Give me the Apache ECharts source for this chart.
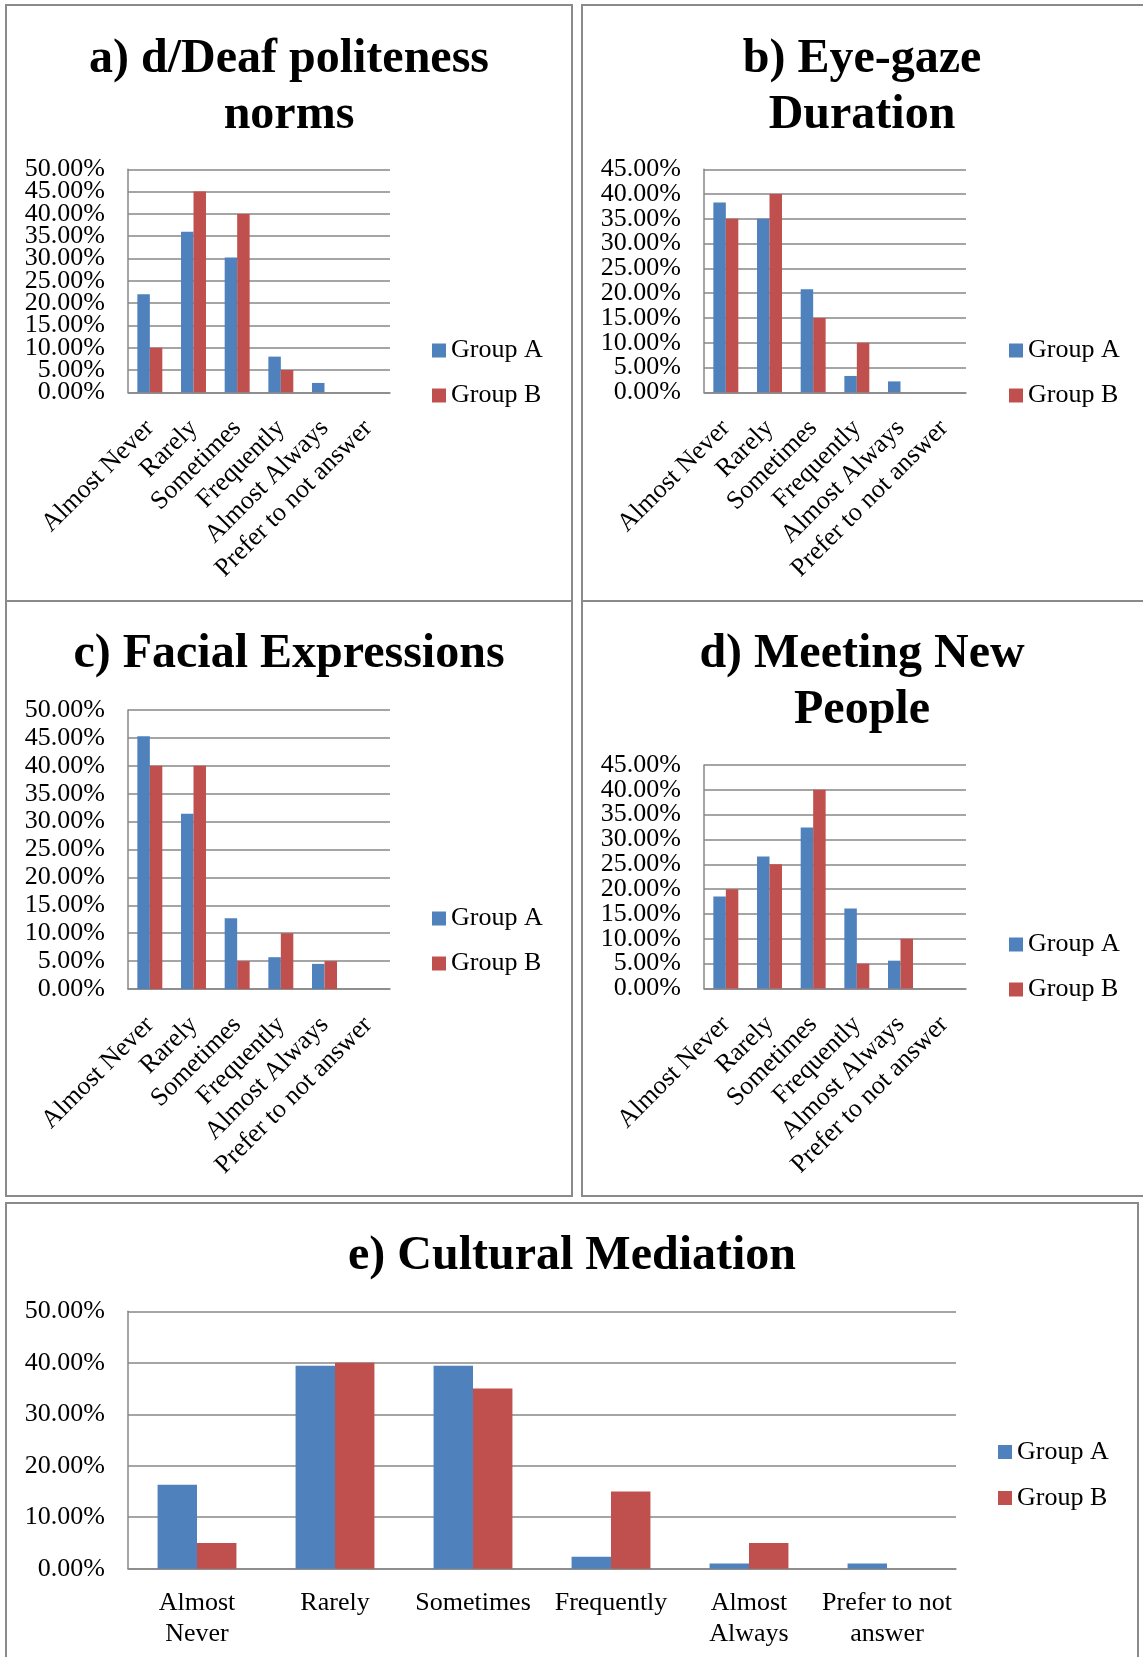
<!DOCTYPE html>
<html>
<head>
<meta charset="utf-8">
<title>Survey responses by group</title>
<script src="https://cdn.jsdelivr.net/npm/echarts@6/dist/echarts.min.js"></script>
<style>
  html, body { margin: 0; padding: 0; background: #fff; }
  #chart { width: 1143px; height: 1657px; }
</style>
</head>
<body>
<div id="chart"></div>
<script>
// Response categories (rotated labels in the small panels)
const categories = ['Almost Never', 'Rarely', 'Sometimes', 'Frequently', 'Almost Always', 'Prefer to not answer'];
// Wrapped tick labels for the wide bottom panel
const wrappedLabels = ['Almost\nNever', 'Rarely', 'Sometimes', 'Frequently', 'Almost\nAlways', 'Prefer to not\nanswer'];
const seriesNames = ['Group A', 'Group B'];

// Percent of respondents per category
const politenessA = [22.0, 36.0, 30.2, 8.0, 2.1, 0];
const politenessB = [10.0, 45.0, 40.0, 5.0, 0, 0];
const eyeGazeA = [38.3, 35.0, 20.8, 3.3, 2.2, 0];
const eyeGazeB = [35.0, 40.0, 15.0, 10.0, 0, 0];
const facialA = [45.3, 31.4, 12.7, 5.7, 4.5, 0];
const facialB = [40.0, 40.0, 5.0, 10.0, 5.0, 0];
const meetingA = [18.5, 26.6, 32.4, 16.1, 5.6, 0];
const meetingB = [20.0, 25.0, 40.0, 5.0, 10.0, 0];
const mediationA = [16.3, 39.4, 39.4, 2.3, 1.0, 1.0];
const mediationB = [5.0, 40.0, 35.0, 15.0, 5.0, 0];

// Axis ranges (percent) and tick labels of the small panels
const yMaxSmall = [50, 45, 50, 45];
const yMaxWide = 50;
const yStepSmall = 5;
const yStepWide = 10;
const tickEven50 = [0, 10, 20, 30, 40, 50];
const tickOdd50 = [5, 15, 25, 35, 45];
const tickEven45 = [0, 10, 20, 30, 40];
const tickOdd45 = [5, 15, 25, 35, 45];

const panelTitles = [
  'a) d/Deaf politeness\nnorms',
  'b) Eye-gaze\nDuration',
  'c) Facial Expressions',
  'd) Meeting New\nPeople',
  'e) Cultural Mediation'
];

const FONT = '"Liberation Serif", "Times New Roman", serif';
const FS = 26;
const BLUE = '#4F81BD';
const RED = '#C0504D';
const GRIDC = '#878787';

// Plot areas, panel frames, titles and legends
const panels = [
  { grid: { left: 128, top: 169.3, width: 262, height: 223 }, frame: [6, 5, 566, 596], titleX: 289, titleY: 31.5, legend: { left: 432, top: 335.5, gap: 15 } },
  { grid: { left: 704, top: 169.3, width: 262, height: 223 }, frame: [582, 5, 562, 596], titleX: 862, titleY: 31.5, legend: { left: 1009, top: 335.5, gap: 15 } },
  { grid: { left: 128, top: 710, width: 262, height: 279 }, frame: [6, 601, 566, 595], titleX: 289, titleY: 626.5, legend: { left: 432, top: 903.5, gap: 15 } },
  { grid: { left: 704, top: 765, width: 262, height: 223.5 }, frame: [582, 601, 562, 595], titleX: 862, titleY: 626.5, legend: { left: 1009, top: 929.5, gap: 15 } },
  { grid: { left: 128, top: 1311.3, width: 828, height: 257.4 }, frame: [6, 1203, 1132, 470], titleX: 572, titleY: 1228.5, legend: { left: 998, top: 1437, gap: 16 } }
];

const dataPairs = [
  [politenessA, politenessB],
  [eyeGazeA, eyeGazeB],
  [facialA, facialB],
  [meetingA, meetingB],
  [mediationA, mediationB]
];

const pct = v => v.toFixed(2) + '%';
const labelStyle = { margin: 23, color: '#000', fontFamily: FONT, fontSize: FS, formatter: pct };

const grids = [], xAxes = [], yAxes = [], series = [], legends = [], graphics = [];

panels.forEach((p, i) => {
  const wide = i === 4;
  const yMax = wide ? yMaxWide : yMaxSmall[i];
  grids.push(Object.assign({ containLabel: false, outerBoundsMode: 'none' }, p.grid));

  xAxes.push({
    type: 'category',
    gridIndex: i,
    data: wide ? wrappedLabels : categories,
    axisLine: { show: true, lineStyle: { color: GRIDC, width: 1.5 } },
    axisTick: { show: false },
    axisLabel: wide ? {
      interval: 0, margin: 19, color: '#000', fontFamily: FONT, fontSize: FS, lineHeight: 31
    } : {
      interval: 0, rotate: 45, margin: 32, color: '#000', fontFamily: FONT, fontSize: FS,
      hideOverlap: false
    }
  });

  // main value axis: axis line, gridlines and (wide panel) labels
  const mainIndex = yAxes.length;
  yAxes.push({
    type: 'value',
    gridIndex: i,
    min: 0,
    max: yMax,
    interval: wide ? yStepWide : yStepSmall,
    axisLine: { show: true, lineStyle: { color: GRIDC, width: 1.5 } },
    axisTick: { show: false },
    splitLine: { show: true, lineStyle: { color: GRIDC, width: 1.5 } },
    axisLabel: Object.assign({ show: wide }, labelStyle)
  });

  // the small panels pack labels every 5%; split them over two label-only
  // axes on the same side so that none of them gets dropped as overlapping
  if (!wide) {
    const even = yMax === 50 ? tickEven50 : tickEven45;
    const odd = yMax === 50 ? tickOdd50 : tickOdd45;
    [even, odd].forEach(vals => {
      yAxes.push({
        type: 'value',
        gridIndex: i,
        position: 'left',
        offset: 0,
        min: 0,
        max: yMax,
        interval: yStepSmall,
        axisLine: { show: false },
        axisTick: { show: false },
        splitLine: { show: false },
        axisLabel: Object.assign({ customValues: vals, showMinLabel: true, showMaxLabel: true }, labelStyle)
      });
    });
  }

  dataPairs[i].forEach((values, k) => {
    series.push({
      name: seriesNames[k],
      type: 'bar',
      xAxisIndex: i,
      yAxisIndex: mainIndex,
      data: values,
      barGap: '0%',
      barCategoryGap: '42.86%',
      itemStyle: { color: k === 0 ? BLUE : RED },
      emphasis: { disabled: true }
    });
  });

  legends.push({
    data: seriesNames,
    orient: 'vertical',
    left: p.legend.left,
    top: p.legend.top,
    padding: 0,
    itemGap: p.legend.gap,
    itemWidth: 14,
    itemHeight: 14,
    icon: 'rect',
    textStyle: { color: '#000', fontFamily: FONT, fontSize: FS, lineHeight: 30 }
  });

  graphics.push({
    type: 'rect',
    shape: { x: p.frame[0], y: p.frame[1], width: p.frame[2], height: p.frame[3] },
    style: { fill: 'none', stroke: '#8a8a8a', lineWidth: 2 },
    silent: true
  });
  graphics.push({
    type: 'text',
    x: p.titleX,
    y: p.titleY,
    style: {
      text: panelTitles[i],
      fill: '#000',
      font: 'bold 48px ' + FONT,
      lineHeight: 56,
      textAlign: 'center',
      textVerticalAlign: 'top'
    },
    silent: true
  });
});

const chart = echarts.init(document.getElementById('chart'), null, { renderer: 'canvas' });
chart.setOption({
  animation: false,
  backgroundColor: '#fff',
  grid: grids,
  xAxis: xAxes,
  yAxis: yAxes,
  legend: legends,
  series: series,
  graphic: graphics
});
</script>
</body>
</html>
